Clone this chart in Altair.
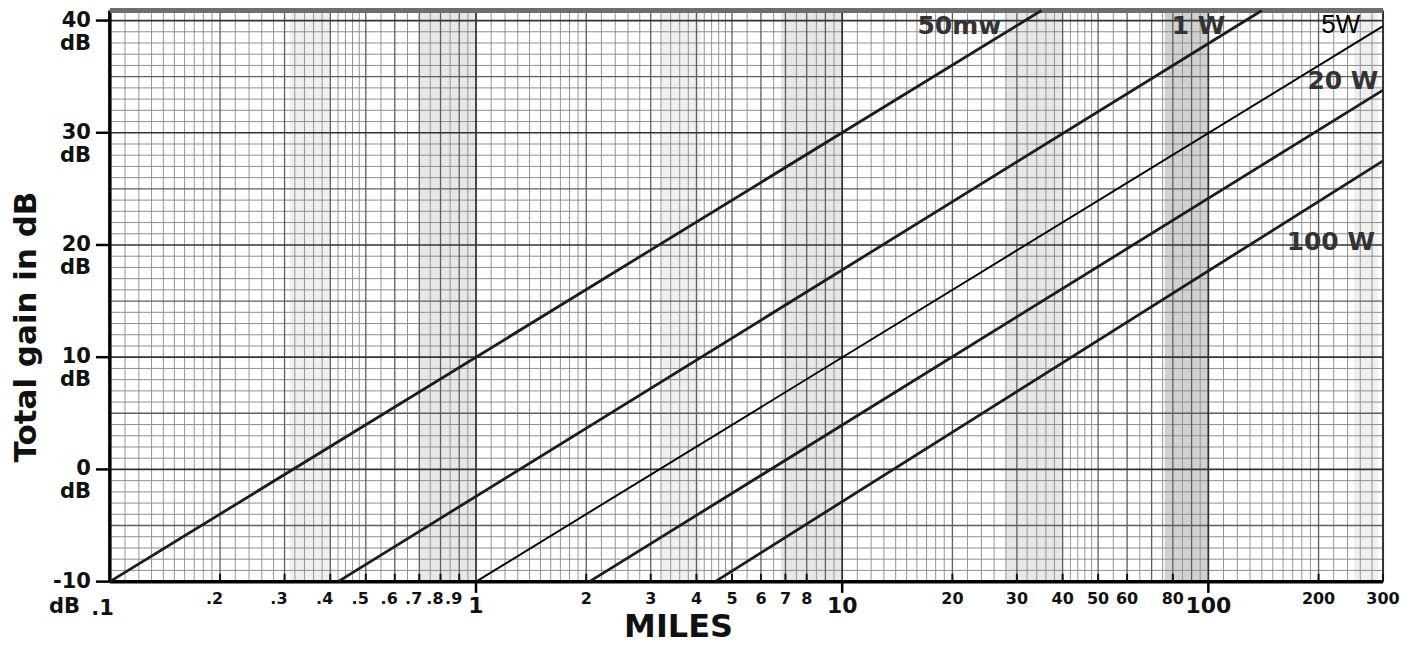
import altair as alt
import pandas as pd
import numpy as np

# ---------------- data ----------------
series_names = ["50mw", "1 W", "5W", "20 W", "100 W"]
x_start = [0.1, 0.42, 1.0, 2.04, 4.5]
y_start = [-10, -10, -10, -10, -10]
x_end = [35.0, 140.0, 300.0, 300.0, 300.0]
y_end = [40.9, 40.9, 39.5, 33.8, 27.5]

label_x = [20.9, 94.0, 230.0, 233.0, 216.0]
label_y = [39.5, 39.5, 39.6, 34.6, 20.3]

x_domain = [0.1, 300]
y_domain = [-10, 40.9]

y_tick_values = [-10, 0, 10, 20, 30, 40]
x_major_values = [0.1, 1, 10, 100]
x_major_text = [".1", "1", "10", "100"]
x_minor_values = [0.2, 0.3, 0.4, 0.5, 0.6, 0.7, 0.8, 0.9,
                  2, 3, 4, 5, 6, 7, 8,
                  20, 30, 40, 50, 60, 80,
                  200, 300]
x_minor_text = [".2", ".3", ".4", ".5", ".6", ".7", ".8", ".9",
                "2", "3", "4", "5", "6", "7", "8",
                "20", "30", "40", "50", "60", "80",
                "200", "300"]

x_title = "MILES"
y_title = "Total gain in dB"

# shaded (darker) strips of the scanned log paper
light_band_lo = [0.31, 3.2, 250.0]
light_band_hi = [0.40, 4.1, 290.0]
mid_band_lo = [0.70, 6.8, 28.0]
mid_band_hi = [1.0, 10.0, 40.0]
dark_band_lo = [76.0]
dark_band_hi = [100.0]

# ---------------- log-paper grid ----------------
minor_v, mid_v, major_v = [], [], []
for dec in [0.1, 1, 10, 100]:
    for lo, hi, step in [(1, 2, 0.1), (2, 5, 0.2), (5, 10, 0.5)]:
        for m in np.arange(lo + step, hi - 1e-9, step):
            if abs(m - round(m)) > 1e-6:
                minor_v.append(round(m * dec, 6))
    for m in range(2, 10):
        mid_v.append(m * dec)
    major_v.append(dec)
minor_v = [v for v in minor_v if v <= 300]
mid_v = [v for v in mid_v if v <= 300]
major_v = [v for v in major_v if 0.1 < v <= 300]

h_minor = [v for v in range(-9, 41) if v % 5 != 0]
h_mid = [v for v in range(-5, 41) if v % 5 == 0 and v % 10 != 0]
h_major = [v for v in range(0, 41, 10)]

xs = alt.Scale(type="log", domain=x_domain, nice=False)
ys = alt.Scale(domain=y_domain, nice=False, zero=False)

FONT = "DejaVu Sans"
INK = "#111111"


def X(field, **kw):
    return alt.X(field, scale=xs, axis=None, **kw)


def Y(field, **kw):
    return alt.Y(field, scale=ys, axis=None, **kw)


def vrules(vals, color, width):
    return alt.Chart(pd.DataFrame({"v": vals})).mark_rule(
        color=color, strokeWidth=width
    ).encode(x=X("v:Q"))


def hrules(vals, color, width):
    return alt.Chart(pd.DataFrame({"v": vals})).mark_rule(
        color=color, strokeWidth=width
    ).encode(y=Y("v:Q"))


def bands(lo, hi, opacity):
    return alt.Chart(pd.DataFrame({"lo": lo, "hi": hi})).mark_rect(
        color="#707070", opacity=opacity
    ).encode(x=X("lo:Q"), x2="hi:Q")


# frame: left and bottom axis lines, top and right edges
left_line = alt.Chart(pd.DataFrame({"v": [x_domain[0]]})).mark_rule(
    color="#000", strokeWidth=3.5).encode(x=X("v:Q"))
right_line = alt.Chart(pd.DataFrame({"v": [x_domain[1]]})).mark_rule(
    color="#333", strokeWidth=2).encode(x=X("v:Q"))
bottom_line = alt.Chart(pd.DataFrame({"v": [y_domain[0]]})).mark_rule(
    color="#000", strokeWidth=3.5).encode(y=Y("v:Q"))
top_line = alt.Chart(pd.DataFrame({"v": [y_domain[1]]})).mark_rule(
    color="#6e6e6e", strokeWidth=5).encode(y=Y("v:Q"))

# outward tick marks on the y axis (about 14 px long) and on x at decades
y_ticks = alt.Chart(pd.DataFrame({"v": y_tick_values})).mark_rule(
    color="#000", strokeWidth=2.5).encode(
    x=alt.X(datum=x_domain[0] * 10 ** (-14 / 367.5), scale=xs, axis=None),
    x2=alt.datum(x_domain[0]),
    y=Y("v:Q"))
x_ticks = alt.Chart(pd.DataFrame({"v": [1, 10, 100]})).mark_rule(
    color="#000", strokeWidth=2.5).encode(
    x=X("v:Q"),
    y=alt.Y(datum=y_domain[0], scale=ys, axis=None),
    y2=alt.datum(y_domain[0] - 1.0))
inner_ticks = alt.Chart(pd.DataFrame({"v": x_minor_values})).mark_rule(
    color="#111", strokeWidth=2).encode(
    x=X("v:Q"),
    y=alt.Y(datum=y_domain[0], scale=ys, axis=None),
    y2=alt.datum(y_domain[0] + 0.7))

lines_df = pd.DataFrame({"series": series_names, "x0": x_start, "y0": y_start,
                         "x1": x_end, "y1": y_end})

thick_lines = alt.Chart(lines_df).transform_filter(
    alt.datum.series != "5W"
).mark_rule(color="#1c1c1c", strokeWidth=2.8, strokeCap="butt").encode(
    x=X("x0:Q"), x2="x1:Q", y=Y("y0:Q"), y2="y1:Q")

thin_line = alt.Chart(lines_df).transform_filter(
    alt.datum.series == "5W"
).mark_rule(color="#000", strokeWidth=1.9, strokeCap="butt").encode(
    x=X("x0:Q"), x2="x1:Q", y=Y("y0:Q"), y2="y1:Q")

lab_df = pd.DataFrame({"series": series_names, "lx": label_x, "ly": label_y})
bold_labels = alt.Chart(lab_df).transform_filter(
    alt.datum.series != "5W"
).mark_text(font=FONT, fontWeight="bold", fontSize=25, color="#333",
            align="center", baseline="middle").encode(
    x=X("lx:Q"), y=Y("ly:Q"), text="series:N")
thin_label = alt.Chart(lab_df).transform_filter(
    alt.datum.series == "5W"
).mark_text(font="Liberation Sans", fontWeight="normal", fontSize=26,
            color="#000", align="center", baseline="middle").encode(
    x=X("lx:Q"), y=Y("ly:Q"), text="series:N")

# y tick labels: number with "dB" under it
ylab_df = pd.DataFrame({"v": y_tick_values, "t": [str(v) for v in y_tick_values]})
y_num = alt.Chart(ylab_df).mark_text(
    font=FONT, fontWeight="bold", fontSize=21, color=INK,
    align="right", baseline="middle", dx=-19, dy=0
).encode(x=alt.X(datum=x_domain[0], scale=xs, axis=None),
         y=Y("v:Q"), text="t:N")
y_db = alt.Chart(ylab_df).transform_filter("datum.v > -10").mark_text(
    font=FONT, fontWeight="bold", fontSize=21, color=INK,
    align="right", baseline="middle", dx=-19, dy=23
).encode(x=alt.X(datum=x_domain[0], scale=xs, axis=None),
         y=Y("v:Q"), text=alt.value("dB"))
y_db_low = alt.Chart(ylab_df).transform_filter("datum.v == -10").mark_text(
    font=FONT, fontWeight="bold", fontSize=21, color=INK,
    align="right", baseline="middle", dx=-30, dy=25
).encode(x=alt.X(datum=x_domain[0], scale=xs, axis=None),
         y=Y("v:Q"), text=alt.value("dB"))

# x tick labels
xminor_df = pd.DataFrame({"v": x_minor_values, "t": x_minor_text})
x_minor_dec = alt.Chart(xminor_df).transform_filter("datum.v < 1").mark_text(
    font=FONT, fontWeight="bold", fontSize=16, color=INK,
    align="right", baseline="alphabetic", dx=3, dy=22
).encode(x=X("v:Q"), y=alt.Y(datum=y_domain[0], scale=ys, axis=None), text="t:N")
x_minor_int = alt.Chart(xminor_df).transform_filter("datum.v >= 1").mark_text(
    font=FONT, fontWeight="bold", fontSize=16, color=INK,
    align="center", baseline="alphabetic", dy=22
).encode(x=X("v:Q"), y=alt.Y(datum=y_domain[0], scale=ys, axis=None), text="t:N")

xmajor_df = pd.DataFrame({"v": x_major_values, "t": x_major_text})
x_major_dec = alt.Chart(xmajor_df).transform_filter("datum.v < 1").mark_text(
    font=FONT, fontWeight="bold", fontSize=21, color=INK,
    align="right", baseline="alphabetic", dx=4, dy=33
).encode(x=X("v:Q"), y=alt.Y(datum=y_domain[0], scale=ys, axis=None), text="t:N")
x_major_int = alt.Chart(xmajor_df).transform_filter("datum.v >= 1").mark_text(
    font=FONT, fontWeight="bold", fontSize=22, color=INK,
    align="center", baseline="alphabetic", dy=31
).encode(x=X("v:Q"), y=alt.Y(datum=y_domain[0], scale=ys, axis=None), text="t:N")

# axis titles
x_mid = float(np.sqrt(x_domain[0] * x_domain[1]))
y_mid = (y_domain[0] + y_domain[1]) / 2
xt = alt.Chart(pd.DataFrame({"t": [x_title]})).mark_text(
    font=FONT, fontWeight="bold", fontSize=32, color=INK,
    align="center", baseline="middle", dx=-68, dy=45
).encode(x=alt.X(datum=x_mid, scale=xs, axis=None),
         y=alt.Y(datum=y_domain[0], scale=ys, axis=None), text="t:N")
# rotated text: offsets are applied in the rotated frame
yt = alt.Chart(pd.DataFrame({"t": [y_title]})).mark_text(
    font=FONT, fontWeight="bold", fontSize=31, color=INK, angle=270,
    align="center", baseline="middle", dx=-31, dy=-83
).encode(x=alt.X(datum=x_domain[0], scale=xs, axis=None),
         y=alt.Y(datum=y_mid, scale=ys, axis=None), text="t:N")

chart = alt.layer(
    bands(light_band_lo, light_band_hi, 0.10),
    bands(mid_band_lo, mid_band_hi, 0.17),
    bands(dark_band_lo, dark_band_hi, 0.32),
    vrules(minor_v, "#949494", 1),
    hrules(h_minor, "#8e8e8e", 1),
    vrules(mid_v, "#5e5e5e", 1.3),
    hrules(h_mid, "#5e5e5e", 1.4),
    vrules(major_v, "#2c2c2c", 1.7),
    hrules(h_major, "#333333", 1.7),
    left_line, right_line, bottom_line, top_line,
    y_ticks, x_ticks, inner_ticks,
    thick_lines, thin_line, bold_labels, thin_label,
    y_num, y_db, y_db_low, x_minor_dec, x_minor_int, x_major_dec, x_major_int,
    xt, yt,
).properties(
    width=1275, height=572,
    autosize=alt.AutoSizeParams(type="none"),
    padding={"left": 102, "top": 2, "right": 25, "bottom": 64},
    background="#ffffff",
).configure_view(stroke=None)

chart.save("out.html", embed_options={"renderer": "svg", "actions": False})
